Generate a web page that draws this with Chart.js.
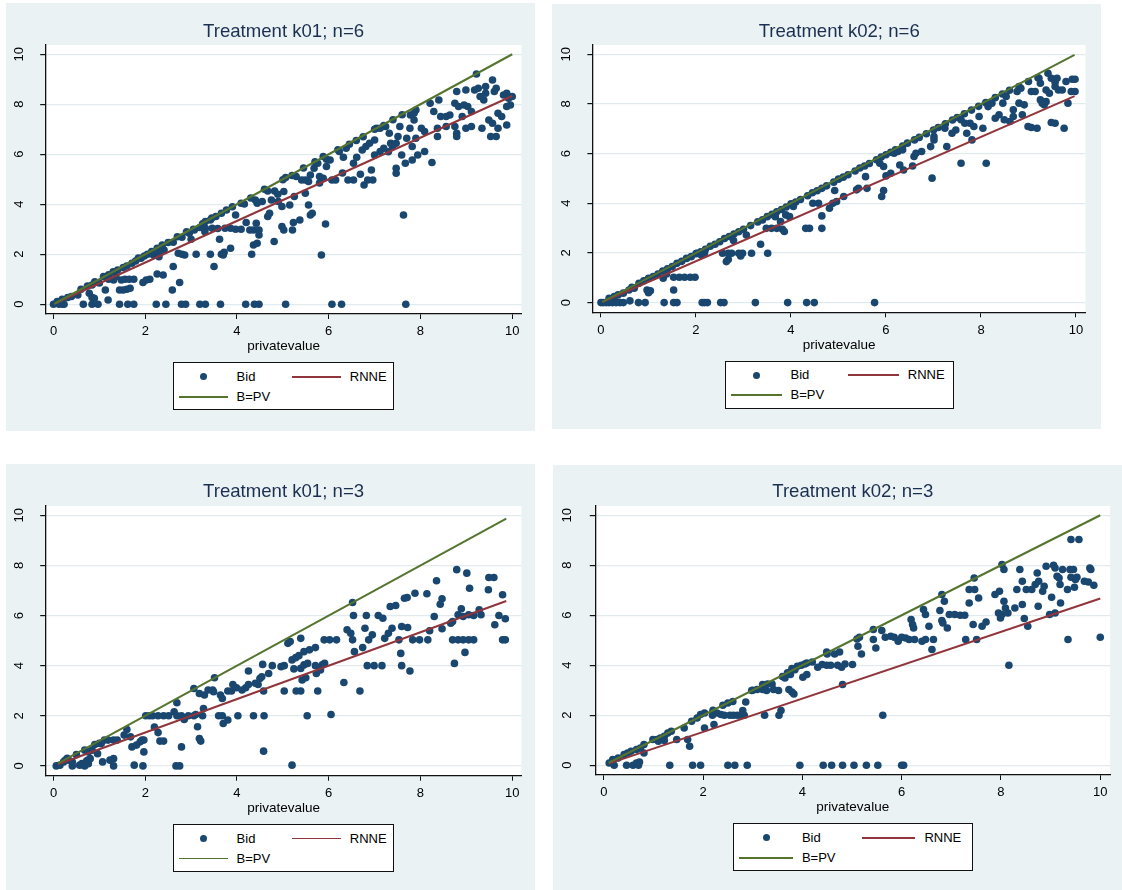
<!DOCTYPE html>
<html>
<head>
<meta charset="utf-8">
<title>Bids against private value by treatment</title>
<script src="https://cdn.jsdelivr.net/npm/chart.js@4.4.1/dist/chart.umd.min.js"></script>
<style>
  body { margin: 0; background: #fff; width: 1122px; height: 890px; position: relative; overflow: hidden;
         font-family: 'Liberation Sans', Arial, Helvetica, sans-serif; }
  .panel { position: absolute; background: #eaf2f3; }
  .panel canvas { position: absolute; left: 0; top: 0; }
  .legend { position: absolute; background: #fff; border: 1px solid #111; box-sizing: border-box; }
  .legend span { position: absolute; font-size: 13px; line-height: 16px; color: #000; white-space: nowrap; }
  .legend .dot { position: absolute; width: 7px; height: 7px; border-radius: 50%; }
  .legend .swatch { position: absolute; height: 1.5px; }
</style>
</head>
<body>
<script>
// Colours and fonts (Stata s2color look)
const FONT = "'Liberation Sans', Arial, Helvetica, sans-serif";
const NAVY = '#1a476f';
const MAROON = '#90353b';
const GREEN = '#55752f';
const PANEL_BG = '#eaf2f3';
const GRID = '#e1ebee';

// Texts and ticks
const panelTitles = ['Treatment k01; n=6', 'Treatment k02; n=6', 'Treatment k01; n=3', 'Treatment k02; n=3'];
const xTickValues = [0, 2, 4, 6, 8, 10];
const yTickValues = [0, 2, 4, 6, 8, 10];
const legendLabels = ['Bid', 'RNNE', 'B=PV'];
const xAxisTitle = 'privatevalue';

// Bids (privatevalue, bid)
const bidK01n6 = [
  [0,0],[0.12,0],[0.2,0],[0.23,0],[0.65,0],[0.84,0],[0.97,0],[1.44,0],[1.62,0],[1.75,0],[2.24,0],[2.45,0],[2.79,0],[2.88,0],
  [3.19,0],[3.31,0],[3.64,0],[4.19,0],[4.38,0],[4.48,0],[5.06,0],[6.07,0],[6.28,0],[7.68,0],
  [0.08,0.11],[0.19,0.2],[0.31,0.27],[0.39,0.31],[0.53,0.37],[0.74,0.73],[0.84,0.77],[0.78,0.44],[0.84,0.27],[0.89,0.24],[0.92,0.87],
  [1.09,1.11],[1.13,0.57],[1.19,0.17],[1.31,0.97],[1.36,1.11],[1.4,1.37],[1.44,0.57],[1.52,0.57],[1.6,0.6],[1.67,0.64],[1.48,0.97],
  [1.56,1.0],[1.65,1.0],[1.75,1.0],[1.52,1.47],[1.6,1.53],[1.71,1.64],[1.79,1.73],
  [1.95,0.87],[2.02,0.97],[2.1,1.0],[2.26,1.21],[2.39,1.17],[1.91,1.84],[1.98,1.93],[2.14,2.11],[2.26,2.24],[2.37,2.37],[2.18,1.97],
  [2.3,2.04],[2.41,2.17],[2.61,1.51],[2.59,0.57],[2.75,0.87],[2.61,2.48],[2.72,2.04],[2.8,2.0],[2.86,1.97],[2.8,2.68],[2.96,2.84],
  [3.07,2.97],[3.19,3.07],[3.11,2.0],[3.31,3.31],[3.42,3.37],[3.54,3.51],[3.31,3.04],[3.46,3.04],[3.58,3.03],[3.42,2.0],[3.5,1.51],
  [3.62,2.6],[3.66,2.0],[3.72,2.08],[3.7,1.97],[3.66,3.64],[3.77,3.77],[3.74,3.04],[3.86,3.04],[3.97,3.0],[4.09,3.0],[3.86,2.24],
  [3.97,3.57],[4.09,4.04],[4.16,4.01],[4.2,3.27],[4.28,2.97],[4.36,2.97],[4.32,2.0],[4.36,2.37],[4.44,2.44],[4.4,4.17],[4.44,4.04],
  [4.42,3.24],[4.48,2.97],[4.48,2.77],[4.55,4.11],[4.67,4.53],[4.67,3.51],[4.71,3.64],[4.81,2.51],[4.82,4.53],[4.89,4.4],[4.75,4.17],
  [4.9,4.11],[4.98,3.91],[5.02,4.51],[4.98,3.11],[5.02,2.97],[5.06,5.07],[5.15,3.97],[5.21,2.97],[5.23,3.27],[5.25,4.31],
  [5.29,5.11],[5.41,4.97],[5.49,4.97],[5.56,4.91],[5.37,3.37],[5.49,4.44],[5.56,3.97],[5.6,3.57],[5.64,3.64],[5.6,5.17],[5.68,5.44],
  [5.76,5.64],[5.8,5.11],[5.88,5.04],[5.84,1.97],[5.93,3.21],[5.88,5.91],[5.95,5.8],[6.03,5.77],[5.95,5.51],
  [6.07,4.97],[6.15,4.97],[6.23,6.11],[6.32,5.88],[6.38,6.24],[6.42,4.97],[6.54,4.97],[6.54,5.64],[6.61,5.88],[6.73,6.17],[6.81,6.31],
  [6.69,5.2],[6.77,4.77],[6.85,4.97],[6.93,5.37],[6.96,4.97],[6.89,6.44],[7.0,6.57],[7.0,5.97],[7.12,6.11],[7.2,6.24],[7.04,7.04],
  [7.12,7.04],[7.24,7.11],[7.32,6.84],[7.35,6.44],[7.39,6.31],[7.47,6.44],[7.47,5.24],[7.47,5.44],[7.51,6.71],[7.55,7.11],[7.59,5.97],
  [7.63,3.57],[7.67,5.64],[7.7,6.64],[7.77,7.04],[7.82,5.77],[7.78,7.57],[7.86,7.64],[7.82,6.31],[7.9,6.64],[7.86,7.37],[7.9,7.77],
  [7.94,5.97],[8.09,6.11],[8.02,7.04],[8.09,6.91],[8.21,8.04],[8.25,5.67],[8.29,7.71],[8.37,7.04],[8.37,6.71],[8.4,8.17],[8.44,7.51],
  [8.56,7.51],[8.64,7.57],[8.56,7.11],[8.75,8.04],[8.83,7.91],[8.95,7.97],[8.79,8.51],[8.75,7.11],[8.79,6.84],[8.79,6.71],[8.91,7.51],
  [8.99,8.57],[9.03,7.91],[9.11,7.71],[8.99,7.04],[9.11,7.11],[9.18,8.57],[9.26,8.64],[9.22,9.21],[9.3,8.31],[9.38,8.17],[9.34,7.04],
  [9.42,8.71],[9.42,8.44],[9.49,7.37],[9.57,7.24],[9.57,8.97],[9.61,8.51],[9.65,8.64],[9.53,6.71],[9.65,6.71],[9.69,7.64],[9.69,7.04],
  [9.77,7.51],[9.81,8.37],[9.88,8.44],[9.88,7.17],[9.88,7.91],[9.96,7.97],[9.92,8.24],[10.0,8.31],
  [0.6,0.6],[0.9,0.9],[1.2,1.18],[1.3,1.3],[1.85,1.85],[2.05,2.0],[2.5,2.47],[2.7,2.7],[2.9,2.9],[3.05,3.0],[3.25,3.22],[3.45,3.45],
  [3.9,3.9],[4.3,4.25],[4.6,4.6],[5.0,4.98],[5.2,5.15],[5.45,5.45],[5.7,5.7],[6.2,6.18],[6.45,6.4],[6.6,6.55],[6.75,6.7],[7.0,7.0],
  [7.2,7.15],[7.4,7.38],[7.6,7.58],[1.0,0.85],[1.2,1.0],[2.3,1.9],[3.0,2.6],[3.3,2.9],[5.8,4.85],[6.3,5.25],[7.3,6.1]
];

const bidK02n6 = [
  [0,0],[0.05,0],[0.11,0],[0.17,0],[0.24,0],[0.32,0],[0.4,0],[0.47,0],[0.61,0.07],[0.79,0],[0.93,0],[1.33,0],[1.53,0],[1.6,0],
  [2.13,0],[2.18,0],[2.24,0],[2.52,0],[2.59,0],[3.25,0],[3.93,0],[4.33,0],[4.49,0],[5.76,0],
  [0.17,0.17],[0.28,0.24],[0.36,0.31],[0.47,0.38],[0.59,0.51],[0.7,0.58],
  [0.65,0.62],[0.8,0.78],[0.9,0.88],[1.0,0.98],[1.1,1.05],[1.2,1.15],[1.3,1.27],[1.4,1.36],[1.5,1.45],[1.6,1.58],[1.7,1.66],
  [1.8,1.78],[1.9,1.85],[2.0,1.97],[2.1,2.05],[2.2,2.15],[2.3,2.27],[2.4,2.35],[2.5,2.45],[2.6,2.58],[2.7,2.66],[2.8,2.76],
  [2.9,2.85],[3.0,2.95],[3.15,3.1],[3.3,3.25],[3.4,3.33],[3.5,3.46],[3.6,3.55],[3.7,3.66],[3.8,3.75],[3.9,3.85],[4.0,3.98],
  [4.1,4.05],[4.2,4.15],[4.35,4.3],[4.45,4.42],[4.55,4.5],[4.65,4.6],[4.75,4.7],[4.9,4.85],[5.0,4.97],[5.1,5.05],[5.2,5.15],
  [5.35,5.3],[5.45,5.42],[5.55,5.5],[5.65,5.6],[5.8,5.75],[5.9,5.86],[6.0,5.95],[6.1,6.05],[6.2,6.15],[6.35,6.3],[6.45,6.42],
  [6.6,6.55],[6.7,6.65],[6.85,6.8],[7.0,6.95],[7.1,7.05],[7.25,7.2],[7.4,7.35],[7.5,7.45],[7.65,7.6],[7.8,7.75],[7.95,7.9],
  [8.1,8.05],[8.3,8.25],[8.45,8.4],[8.6,8.55],[8.8,8.7],[9.0,8.9],[9.2,9.05],
  [0.97,0.51],[1.04,0.48],[1.0,0.4],[1.31,0.98],[1.53,1.02],[1.65,1.02],[1.76,1.02],[1.88,1.02],[1.98,1.02],[1.53,0.51],[1.38,1.15],
  [2.02,1.99],[2.11,1.92],[2.18,2.01],[2.56,1.99],[2.68,1.99],[2.75,1.99],[2.64,1.65],[2.68,1.74],[2.79,2.5],[2.9,1.99],[2.98,1.99],
  [2.94,1.88],[3.06,2.72],[3.17,1.99],[3.36,2.35],[3.51,1.99],[3.48,2.99],[3.59,2.99],[3.7,2.99],[3.82,2.95],[3.86,2.86],[3.67,3.46],
  [3.78,3.26],[3.89,3.53],[3.97,3.46],[4.05,3.87],[4.31,2.99],[4.39,2.99],[4.46,4.0],[4.58,4.0],[4.65,3.49],[4.65,2.99],[4.81,3.8],
  [4.88,4.0],[4.96,4.07],[4.92,4.51],[5.11,4.27],[5.38,4.54],[5.42,4.6],[5.57,5.07],[5.6,4.6],[5.87,5.61],[5.95,5.48],[5.91,4.27],
  [5.95,4.51],[6.0,5.1],[6.1,5.21],[6.17,6.01],[6.25,6.08],[6.35,6.15],[6.29,5.54],[6.37,5.34],[6.56,5.5],[6.59,5.88],[6.63,6.01],
  [6.75,6.08],[6.94,6.28],[6.97,5.01],[7.01,6.55],[7.01,6.68],[7.24,7.02],[7.28,6.28],[7.39,6.82],[7.47,6.95],[7.58,5.61],[7.58,7.36],
  [7.66,7.22],[7.7,6.82],[7.77,7.22],[7.85,7.09],[7.81,6.55],[7.96,7.49],[8.04,7.02],[8.11,5.61],[8.15,7.89],[8.23,8.03],[8.3,7.42],
  [8.38,7.56],[8.46,8.03],[8.53,8.3],[8.49,7.36],[8.61,7.29],[8.68,7.76],[8.68,7.49],[8.76,8.5],[8.84,8.63],[8.8,8.03],[8.91,7.96],
  [8.87,7.56],[8.99,7.09],[9.06,7.05],[9.18,7.02],[9.06,8.5],[9.14,8.5],[9.22,9.03],[9.25,8.83],[9.29,8.03],[9.37,8.09],[9.41,9.23],
  [9.48,9.03],[9.37,8.56],[9.44,8.43],[9.56,8.87],[9.56,8.7],[9.48,7.25],[9.56,7.22],[9.6,9.03],[9.63,8.56],[9.71,8.56],[9.75,7.02],
  [9.79,8.9],[9.83,8.03],[9.9,8.5],[9.98,8.5],[9.92,8.99],[9.98,8.99],[9.25,8.16],[9.33,7.96]
];

const bidK01n3 = [
  [0.06,0],[0.14,0.03],[0.22,0.16],[0.26,0.23],[0.33,0.23],[0.41,0],[0.41,0.16],[0.57,0.03],[0.62,0.09],[0.68,0],[0.72,0.19],
  [0.76,0.09],[0.68,0.63],[0.76,0.56],[0.84,0.63],[0.8,0.29],[0.75,0.23],[0.96,0.49],[1.04,0.89],[1.07,0.16],[1.11,1.03],[1.19,1.03],
  [1.31,1.03],[1.39,1.03],[1.23,0.23],[1.31,0.29],[1.31,0],[1.54,1.23],[1.68,1.16],[1.71,0.76],[1.76,0.03],[1.81,0.83],[1.89,0.96],
  [1.93,1.03],[1.97,1.03],[1.95,0],[1.97,0.56],[2.01,2.0],[2.09,2.0],[2.16,2.0],[2.28,2.0],[2.4,2.0],[2.51,2.0],[2.28,1.33],[2.32,0.99],
  [2.4,0.99],[2.63,2.16],[2.69,2.0],[2.69,2.52],[2.67,0],[2.75,0],[2.79,0.76],[2.79,2.0],[2.85,1.85],[2.94,2.0],[3.06,2.0],[3.06,3.09],
  [3.14,1.56],[3.18,1.09],[3.21,0.99],[3.18,2.89],[3.25,2.0],[3.27,2.29],[3.29,2.83],[3.37,3.03],[3.47,3.03],[3.49,2.96],[3.51,3.52],
  [3.6,2.0],[3.68,2.0],[3.7,1.69],[3.8,1.83],[3.64,2.83],[3.68,2.69],[3.8,2.99],[3.88,2.99],[3.91,3.25],[3.99,3.12],[4.02,2.0],
  [4.11,3.03],[4.19,3.12],[4.25,3.79],[4.25,3.25],[4.36,2.0],[4.46,3.25],[4.5,3.49],[4.54,3.56],[4.56,4.05],[4.58,2.99],[4.59,2.0],
  [4.58,0.59],[4.69,3.69],[4.77,4.0],[4.96,3.96],[5.03,4.0],[5.03,2.99],[5.11,4.89],[5.16,4.96],[5.2,4.23],[5.24,3.87],[5.2,0.03],
  [5.28,4.32],[5.35,4.4],[5.29,2.99],[5.39,2.99],[5.39,5.09],[5.39,3.89],[5.46,4.03],[5.54,4.09],[5.42,3.43],[5.5,3.52],[5.46,4.56],
  [5.58,4.63],[5.53,2.0],[5.71,4.72],[5.71,4.0],[5.73,3.69],[5.76,2.99],[5.82,3.83],[5.86,4.03],[5.9,5.03],[6.02,5.03],[5.91,4.09],
  [6.05,2.05],[6.17,5.03],[6.33,3.33],[6.4,5.43],[6.48,5.29],[6.52,6.52],[6.54,6.0],[6.56,4.56],[6.52,5.03],[6.68,2.99],[6.74,4.72],
  [6.79,5.49],[6.82,6.0],[6.84,4.0],[6.87,5.03],[6.95,5.23],[6.99,4.0],[7.08,6.0],[7.18,5.89],[7.16,4.0],[7.22,5.09],[7.3,5.29],
  [7.38,5.49],[7.34,6.36],[7.46,6.4],[7.53,5.03],[7.57,4.49],[7.59,5.56],[7.59,4.0],[7.65,6.69],[7.71,6.72],[7.72,5.52],[7.77,3.79],
  [7.83,5.03],[7.98,5.03],[7.88,6.89],[8.14,6.87],[8.16,5.03],[8.2,5.39],[8.3,5.96],[8.35,7.39],[8.43,6.45],[8.47,6.67],[8.47,5.47],
  [8.66,5.69],[8.7,5.76],[8.7,5.03],[8.82,5.03],[8.93,5.03],[9.05,5.03],[9.16,5.03],[8.74,4.09],[8.79,7.83],[8.82,6.03],[8.89,6.27],
  [8.93,5.96],[9.05,6.03],[9.16,6.0],[9.28,6.23],[9.32,6.03],[8.97,4.53],[9.01,7.69],[9.07,7.09],[9.48,7.03],[9.49,7.52],[9.6,7.52],
  [9.62,5.63],[9.71,6.0],[9.79,6.83],[9.79,5.03],[9.85,5.03],[9.85,5.87],
  [0.3,0.3],[0.5,0.45],[0.9,0.85],[1.0,0.9],[1.6,1.45],[2.2,1.55],[3.1,2.05],[4.4,3.3]
];

const bidK02n3 = [
  [0.21,0],[0.46,0],[0.59,0],[0.7,0],[1.33,0],[1.79,0],[1.95,0],[2.5,0],[2.64,0],[2.89,0],[3.95,0],[4.42,0],[4.59,0],[4.81,0],
  [5.04,0],[5.29,0],[5.52,0],[6.0,0],[6.04,0],
  [0.11,0.09],[0.18,0.23],[0.29,0.29],[0.41,0.43],[0.48,0.49],[0.55,0.56],[0.66,0.63],[0.74,0.69],[0.81,0.83],[0.66,0.09],[0.72,0.13],
  [0.81,0.49],[0.99,1.03],[1.07,1.03],[1.14,1.09],[1.22,1.16],[1.29,1.29],[1.36,1.36],[1.1,0.96],[1.22,0.99],[1.47,1.03],[1.62,1.49],
  [1.69,1.03],[1.73,0.76],[1.77,1.76],[1.88,1.89],[1.95,2.03],[2.03,2.09],[2.03,1.49],[2.19,2.0],[2.28,2.09],[2.36,2.03],[2.22,1.63],
  [2.43,2.0],[2.5,2.49],[2.54,2.0],[2.61,2.0],[2.69,2.0],[2.8,2.19],[2.86,2.53],[2.76,2.0],[2.83,2.0],[2.98,2.99],[3.09,3.03],
  [3.2,3.03],[3.28,2.99],[3.24,2.0],[3.2,3.23],[3.39,3.25],[3.42,3.03],[3.52,2.99],[3.53,2.0],[3.57,2.19],[3.65,3.49],[3.76,3.63],
  [3.73,3.03],[3.79,2.93],[3.83,2.85],[3.79,3.87],[3.9,3.96],[3.98,4.0],[4.01,3.52],[4.09,3.63],[4.09,4.09],[4.2,4.13],[4.31,3.92],
  [4.4,4.03],[4.49,4.0],[4.57,4.0],[4.49,4.53],[4.65,4.45],[4.75,4.53],[4.71,4.0],[4.79,3.92],[4.86,4.05],[5.01,4.03],[4.81,3.23],
  [5.12,4.76],[5.15,5.12],[5.19,4.45],[5.43,5.43],[5.43,5.03],[5.48,4.69],[5.6,5.39],[5.62,2.0],[5.67,5.12],[5.78,5.16],[5.85,5.12],
  [5.93,4.96],[6.0,5.12],[6.08,5.09],[6.15,5.03],[6.26,5.03],[6.19,5.83],[6.22,5.63],[6.24,5.49],[6.41,4.96],[6.48,5.03],[6.44,6.23],
  [6.48,6.03],[6.55,5.56],[6.61,4.63],[6.64,5.03],[6.77,6.19],[6.81,6.83],[6.86,6.56],[6.81,5.79],[6.83,5.69],[6.92,5.49],[6.96,6.03],
  [7.07,6.03],[7.18,6.0],[7.27,6.0],[7.29,5.03],[7.36,6.49],[7.36,7.03],[7.44,5.63],[7.46,7.49],[7.47,7.03],[7.51,5.03],[7.55,6.69],
  [7.62,5.56],[7.7,5.73],[7.88,6.83],[7.95,6.09],[7.99,5.89],[7.97,6.96],[8.02,8.03],[8.06,7.83],[8.06,6.56],[8.09,6.29],[8.02,6.03],
  [8.14,6.09],[8.16,4.0],[8.28,6.29],[8.32,7.03],[8.38,7.83],[8.43,7.36],[8.43,6.43],[8.47,5.87],[8.51,7.03],[8.54,5.56],[8.62,7.03],
  [8.69,7.23],[8.76,7.36],[8.73,7.69],[8.75,6.36],[8.84,6.96],[8.87,7.16],[8.91,7.96],[8.98,6.03],[9.02,6.72],[9.06,8.0],[9.09,7.89],
  [9.09,6.09],[9.13,7.56],[9.17,7.49],[9.19,7.23],[9.2,6.49],[9.24,7.83],[9.34,7.03],[9.35,5.03],[9.39,7.83],[9.46,7.83],[9.41,9.03],
  [9.57,9.03],[9.41,7.52],[9.5,7.43],[9.48,7.12],[9.53,7.52],[9.68,7.36],[9.76,7.33],[9.87,7.2],[9.79,7.89],[9.81,7.83],[10.0,5.12],
  [2.2,2.2],[2.4,2.4],[2.6,2.55],[3.0,3.0],[3.3,3.25],[3.6,3.55],[3.7,3.7],[3.85,3.82],[4.05,4.05],[4.5,4.45],[5.1,5.05]
];

// Reference lines: end points (privatevalue) and the matching RNNE / B=PV values
const pvEndsK01n6 = [0.02, 10];
const rnneEndsK01n6 = [0.02, 8.33];
const pvEndsK02n6 = [0.03, 9.97];
const rnneEndsK02n6 = [0.025, 8.31];
const pvEndsK01n3 = [0.1, 9.87];
const rnneEndsK01n3 = [0.067, 6.58];
const pvEndsK02n3 = [0.1, 10];
const rnneEndsK02n3 = [0.067, 6.67];

// Where each graph sits on the page: box [left, top, width, height], plot [left, top, right, bottom]
const panels = [
  { title: panelTitles[0], bids: bidK01n6, pv: pvEndsK01n6, rnne: rnneEndsK01n6, box: [6, 3, 529, 428], plot: [45.7, 45, 521.4, 314], titleY: 31.7, yGap: 26 },
  { title: panelTitles[1], bids: bidK02n6, pv: pvEndsK02n6, rnne: rnneEndsK02n6, box: [552, 4, 549, 425], plot: [592.9, 45, 1085.5, 312.3], titleY: 31.7, yGap: 26.5 },
  { title: panelTitles[2], bids: bidK01n3, pv: pvEndsK01n3, rnne: rnneEndsK01n3, box: [6, 464, 529, 426], plot: [45.7, 506, 521.4, 775.7], titleY: 491.7, yGap: 26 },
  { title: panelTitles[3], bids: bidK02n3, pv: pvEndsK02n3, rnne: rnneEndsK02n3, box: [553, 465, 569, 425], plot: [595.3, 506, 1110.2, 775], titleY: 491.7, yGap: 28 }
];

const TITLE_SIZE = 18.6;
const TICK_SIZE = 13;
const AXIS_TITLE_SIZE = 13.5;
const X_AXIS_H = 44;
const TICK_LEN = 5.5;

// paint the graph region and the white plot region
const backgroundPlugin = {
  id: 'stataBackground',
  beforeDraw(chart) {
    const ctx = chart.ctx;
    const a = chart.chartArea;
    ctx.save();
    ctx.fillStyle = PANEL_BG;
    ctx.fillRect(0, 0, chart.width, chart.height);
    ctx.fillStyle = '#fff';
    ctx.fillRect(a.left, a.top, a.right - a.left, a.bottom - a.top);
    ctx.restore();
  }
};

function toPoints(pairs) {
  return pairs.map(p => ({ x: p[0], y: p[1] }));
}

function buildLegend(wrap, chart) {
  const a = chart.chartArea;
  const w = (a.right - a.left) * 0.4656;
  const box = document.createElement('div');
  box.className = 'legend';
  box.style.left = ((a.left + a.right) / 2 - w / 2) + 'px';
  box.style.top = (a.bottom + 48.3) + 'px';
  box.style.width = w + 'px';
  box.style.height = '48px';

  const row1 = 13.5, row2 = 33.5;
  const dot = document.createElement('div');
  dot.className = 'dot';
  dot.style.background = NAVY;
  dot.style.left = (w * 0.139 - 4.5) + 'px';
  dot.style.top = (row1 - 3.5) + 'px';
  box.appendChild(dot);

  const addText = (txt, x, y) => {
    const s = document.createElement('span');
    s.textContent = txt;
    s.style.left = x + 'px';
    s.style.top = (y - 8) + 'px';
    box.appendChild(s);
  };
  const addLine = (color, x0, x1, y) => {
    const l = document.createElement('div');
    l.className = 'swatch';
    l.style.background = color;
    l.style.left = x0 + 'px';
    l.style.width = (x1 - x0) + 'px';
    l.style.top = (y - 0.75) + 'px';
    box.appendChild(l);
  };

  addText(legendLabels[0], w * 0.288 - 1, row1);
  addLine(MAROON, w * 0.537 - 1, w * 0.760 - 1, row1);
  addText(legendLabels[1], w * 0.799 - 1, row1);
  addLine(GREEN, w * 0.0275 - 1, w * 0.249 - 1, row2);
  addText(legendLabels[2], w * 0.288 - 1, row2);
  wrap.appendChild(box);
}

function makePanel(p) {
  const [bx, by, bw, bh] = p.box;
  const [pl, pt, pr, pb] = p.plot;

  const wrap = document.createElement('div');
  wrap.className = 'panel';
  wrap.style.left = bx + 'px';
  wrap.style.top = by + 'px';
  wrap.style.width = bw + 'px';
  wrap.style.height = bh + 'px';
  document.body.appendChild(wrap);

  const canvas = document.createElement('canvas');
  canvas.width = bw;
  canvas.height = bh;
  canvas.style.width = bw + 'px';
  canvas.style.height = bh + 'px';
  wrap.appendChild(canvas);

  const titleLH = TITLE_SIZE * 1.2;
  const titlePadTop = p.titleY - by - titleLH / 2;
  const titlePadBottom = (pt - by) - titlePadTop - titleLH;
  const yAxisW = pl - bx;

  const chart = new Chart(canvas, {
    type: 'scatter',
    data: {
      datasets: [
        {
          label: legendLabels[2],
          data: [{ x: p.pv[0], y: p.pv[0] }, { x: p.pv[1], y: p.pv[1] }],
          showLine: true,
          borderColor: GREEN,
          borderWidth: 2,
          pointRadius: 0,
          order: 0
        },
        {
          label: legendLabels[1],
          data: [{ x: p.pv[0], y: p.rnne[0] }, { x: p.pv[1], y: p.rnne[1] }],
          showLine: true,
          borderColor: MAROON,
          borderWidth: 2,
          pointRadius: 0,
          order: 1
        },
        {
          label: legendLabels[0],
          data: toPoints(p.bids),
          pointRadius: 3.8,
          pointBackgroundColor: NAVY,
          pointBorderColor: NAVY,
          pointBorderWidth: 0,
          order: 2
        }
      ]
    },
    options: {
      responsive: false,
      animation: false,
      events: [],
      layout: {
        padding: { left: 0, right: bx + bw - pr, top: 0, bottom: by + bh - pb - X_AXIS_H }
      },
      plugins: {
        legend: { display: false },
        tooltip: { enabled: false },
        title: {
          display: true,
          fullSize: false,
          text: p.title,
          color: '#1b2f50',
          font: { family: FONT, size: TITLE_SIZE, weight: 'normal', lineHeight: 1.2 },
          padding: { top: titlePadTop, bottom: titlePadBottom }
        }
      },
      scales: {
        x: {
          type: 'linear',
          min: -0.17,
          max: 10.2,
          afterBuildTicks: s => { s.ticks = xTickValues.map(v => ({ value: v })); },
          afterFit: s => { s.height = X_AXIS_H; },
          grid: { drawOnChartArea: false, drawTicks: true, tickLength: 5, tickColor: '#111' },
          border: { display: true, color: '#111', width: 1.3 },
          ticks: {
            color: '#000', autoSkip: false, maxRotation: 0, padding: 4.6,
            font: { family: FONT, size: TICK_SIZE, lineHeight: 1.25 }
          },
          title: {
            display: true, text: xAxisTitle, color: '#000',
            font: { family: FONT, size: AXIS_TITLE_SIZE, lineHeight: 1.2 },
            padding: { top: 0, bottom: 3.4 }
          }
        },
        y: {
          type: 'linear',
          min: -0.39,
          max: 10.37,
          afterBuildTicks: s => { s.ticks = yTickValues.map(v => ({ value: v })); },
          afterFit: s => { s.width = yAxisW; },
          grid: { color: GRID, lineWidth: 1.2, drawTicks: true, tickLength: TICK_LEN, tickColor: '#111' },
          border: { display: true, color: '#111', width: 1.3 },
          ticks: {
            color: '#000', autoSkip: false, minRotation: 90, maxRotation: 90, crossAlign: 'center',
            padding: p.yGap - TICK_LEN - 7.2,
            font: { family: FONT, size: TICK_SIZE }
          }
        }
      }
    },
    plugins: [backgroundPlugin]
  });

  buildLegend(wrap, chart);
}

panels.forEach(makePanel);
</script>
</body>
</html>
